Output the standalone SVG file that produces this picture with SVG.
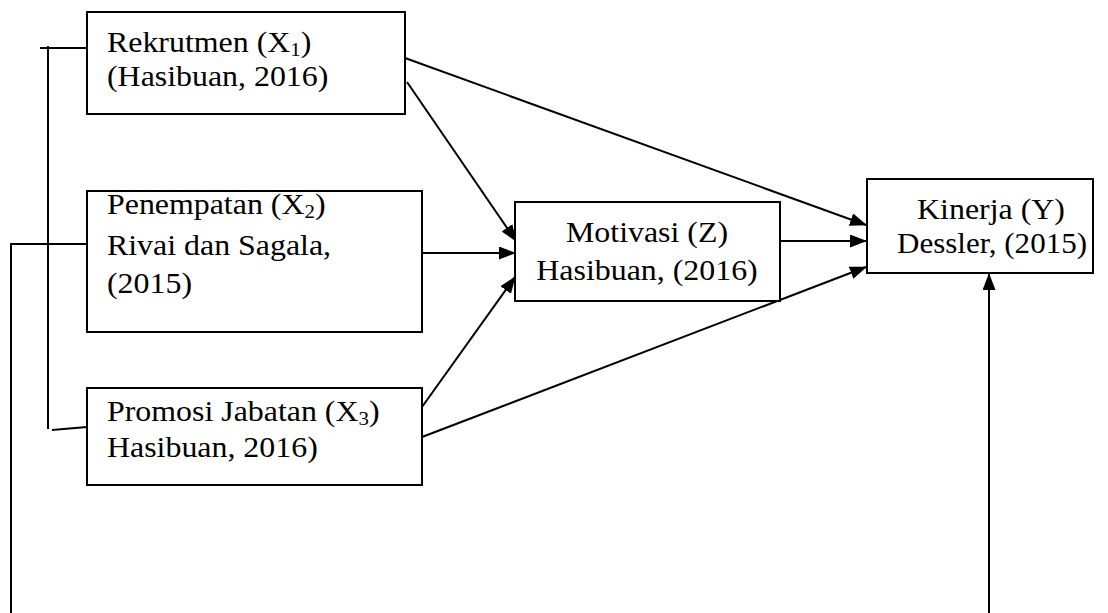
<svg xmlns="http://www.w3.org/2000/svg" width="1108" height="613" viewBox="0 0 1108 613">
<defs>
<marker id="ah" markerWidth="17" markerHeight="13" refX="16" refY="6.5" orient="auto" markerUnits="userSpaceOnUse">
<path d="M0,0 L17,6.5 L0,13 Z" fill="#000"/>
</marker>
<style>
.box{fill:#fff;stroke:#000;stroke-width:2}
.t{font-family:"Liberation Serif","Times New Roman",serif;font-size:29px;fill:#000}
.c{text-anchor:middle}
.ln{stroke:#000;stroke-width:2;fill:none}
.ar{stroke:#000;stroke-width:2;fill:none;marker-end:url(#ah)}
</style>
</defs>
<rect width="1108" height="613" fill="#fff"/>
<g id="connectors">
<polyline class="ln" points="40,48 87,48"/>
<polyline class="ln" points="48,46 48,429"/>
<polyline class="ln" points="52,430 87,427"/>
<polyline class="ln" points="11,613 11,244 87,244"/>
<line class="ar" x1="405" y1="58" x2="866" y2="225"/>
<line class="ar" x1="407" y1="82" x2="516" y2="241"/>
<line class="ar" x1="422" y1="253" x2="515" y2="253"/>
<line class="ar" x1="422" y1="407" x2="515" y2="277"/>
<line class="ar" x1="780" y1="241" x2="866" y2="241"/>
<line class="ar" x1="422" y1="437" x2="866" y2="267"/>
<line class="ar" x1="989" y1="613" x2="989" y2="274"/>
</g>
<g id="node-x1">
<rect class="box" x="87" y="12" width="318" height="102"/>
<text class="t" transform="translate(107,52) scale(1.1,1)">Rekrutmen (X<tspan font-size="19" dy="4">1</tspan><tspan dy="-4">)</tspan></text>
<text class="t" transform="translate(107,86) scale(1.1,1)">(Hasibuan, 2016)</text>
</g>
<g id="node-x2">
<rect class="box" x="87" y="191" width="335" height="141"/>
<text class="t" transform="translate(107,214) scale(1.1,1)">Penempatan (X<tspan font-size="19" dy="4">2</tspan><tspan dy="-4">)</tspan></text>
<text class="t" transform="translate(107,255) scale(1.1,1)">Rivai dan Sagala,</text>
<text class="t" transform="translate(107,293) scale(1.1,1)">(2015)</text>
</g>
<g id="node-x3">
<rect class="box" x="87" y="388" width="335" height="97"/>
<text class="t" transform="translate(107,421) scale(1.1,1)">Promosi Jabatan (X<tspan font-size="19" dy="4">3</tspan><tspan dy="-4">)</tspan></text>
<text class="t" transform="translate(107,457) scale(1.1,1)">Hasibuan, 2016)</text>
</g>
<g id="node-z">
<rect class="box" x="515" y="202" width="265" height="99"/>
<text class="t c" transform="translate(647,242) scale(1.1,1)">Motivasi (Z)</text>
<text class="t c" transform="translate(647,280) scale(1.1,1)">Hasibuan, (2016)</text>
</g>
<g id="node-y">
<rect class="box" x="867" y="179" width="226" height="94"/>
<text class="t c" transform="translate(991,219) scale(1.1,1)">Kinerja (Y)</text>
<text class="t c" transform="translate(992,253) scale(1.07,1)">Dessler, (2015)</text>
</g>
</svg>
